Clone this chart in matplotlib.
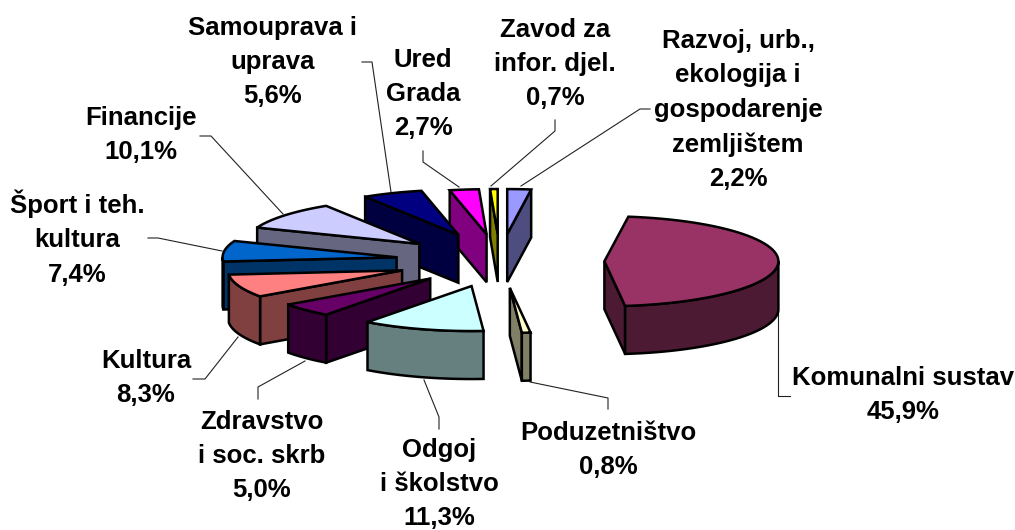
import numpy as np
import matplotlib
matplotlib.use("Agg")
import matplotlib.pyplot as plt
from matplotlib.patches import Polygon
from matplotlib.colors import to_rgb

plt.rcParams['font.family'] = ['Liberation Sans', 'DejaVu Sans']

################### data ###################
names = ["Razvoj, urb.,\nekologija i\ngospodarenje\nzemljištem", "Komunalni sustav", "Poduzetništvo",
         "Odgoj\ni školstvo", "Zdravstvo\ni soc. skrb", "Kultura", "Šport i teh.\nkultura",
         "Financije", "Samouprava i\nuprava", "Ured\nGrada", "Zavod za\ninfor. djel."]
values = [2.2, 45.9, 0.8, 11.3, 5.0, 8.3, 7.4, 10.1, 5.6, 2.7, 0.7]
colors = ["#9999FF", "#993366", "#FFFFCC", "#CCFFFF", "#660066", "#FF8080",
          "#0066CC", "#CCCCFF", "#000080", "#FF00FF", "#FFFF00"]

################### layout, in pixels of the picture ###################
cx, cy = 500, 261
rx, ry = 174, 45
depth = 48
explode = [0.6, 0.6, 0.6, 0.58, 0.56, 0.6, 0.6, 0.6, 0.63, 0.6, 0.6]
label_pos = [(738, 110), (903, 395), (608, 450), (439, 484), (262, 456), (146, 378),
             (77, 238), (141, 135), (273, 62), (423, 94), (555, 64)]
leaders = [[(650, 109), (640, 109), (521, 186)],
           [(778, 310), (778, 396), (790, 396)],
           [(608, 409), (608, 398), (530, 382)],
           [(439, 429), (439, 417), (424, 380)],
           [(258, 399), (258, 387), (305, 361)],
           [(193, 379), (205, 379), (238, 337)],
           [(148, 238), (158, 238), (222, 251)],
           [(200, 136), (211, 136), (283, 214)],
           [(362, 62), (372, 62), (391, 192)],
           [(423, 151), (423, 162), (459, 187)],
           [(555, 120), (555, 131), (491, 186)]]

fig = plt.figure(figsize=(10.15, 5.30), dpi=100)
ax = fig.add_axes([0, 0, 1, 1])
ax.set_xlim(0, 1015)
ax.set_ylim(530, 0)
ax.axis("off")

edges = np.cumsum([0] + values) / sum(values) * 2 * np.pi


def arc(ox, oy, a0, a1):
    t = np.linspace(a0, a1, 60)
    return np.column_stack([ox + rx * np.sin(t), oy - ry * np.cos(t)])


def face(pts, col):
    ax.add_patch(Polygon(pts, closed=True, facecolor=col, edgecolor="black",
                         linewidth=1.8, joinstyle="miter", zorder=2))


################### slices, back ones first ###################
for i in range(len(values) - 1, -1, -1):
    a0, a1 = edges[i], edges[i + 1]
    mid = (a0 + a1) / 2
    ox = cx + explode[i] * rx * np.sin(mid)
    oy = cy - explode[i] * ry * np.cos(mid)
    top = to_rgb(colors[i])
    dark = tuple(c * 0.5 for c in top)
    down = np.array([0, depth])

    # side walls that look at the viewer
    if np.sin(a1) > 0:
        p = arc(ox, oy, a1, a1)[0]
        face([(ox, oy), p, p + down, (ox, oy + depth)], dark)
    if np.sin(a0) < 0:
        p = arc(ox, oy, a0, a0)[0]
        face([(ox, oy), p, p + down, (ox, oy + depth)], dark)
    # outer rim, front half only
    r0, r1 = max(a0, np.pi / 2), min(a1, 3 * np.pi / 2)
    if r1 > r0:
        rim = arc(ox, oy, r0, r1)
        face(np.vstack([rim, rim[::-1] + down]), dark)
    # top face
    face(np.vstack([[(ox, oy)], arc(ox, oy, a0, a1)]), top)

################### labels and leader lines ###################
for i in range(len(values)):
    ax.plot(*zip(*leaders[i]), color="#222222", linewidth=0.8, zorder=1)
    pct = "{:.1f}%".format(values[i]).replace(".", ",")
    ax.text(label_pos[i][0], label_pos[i][1], names[i] + "\n" + pct, ha="center", va="center",
            ma="center", fontsize=18.5, fontweight="bold", linespacing=1.54, color="black", zorder=3)

fig.savefig("out.png", dpi=100, facecolor="white")
